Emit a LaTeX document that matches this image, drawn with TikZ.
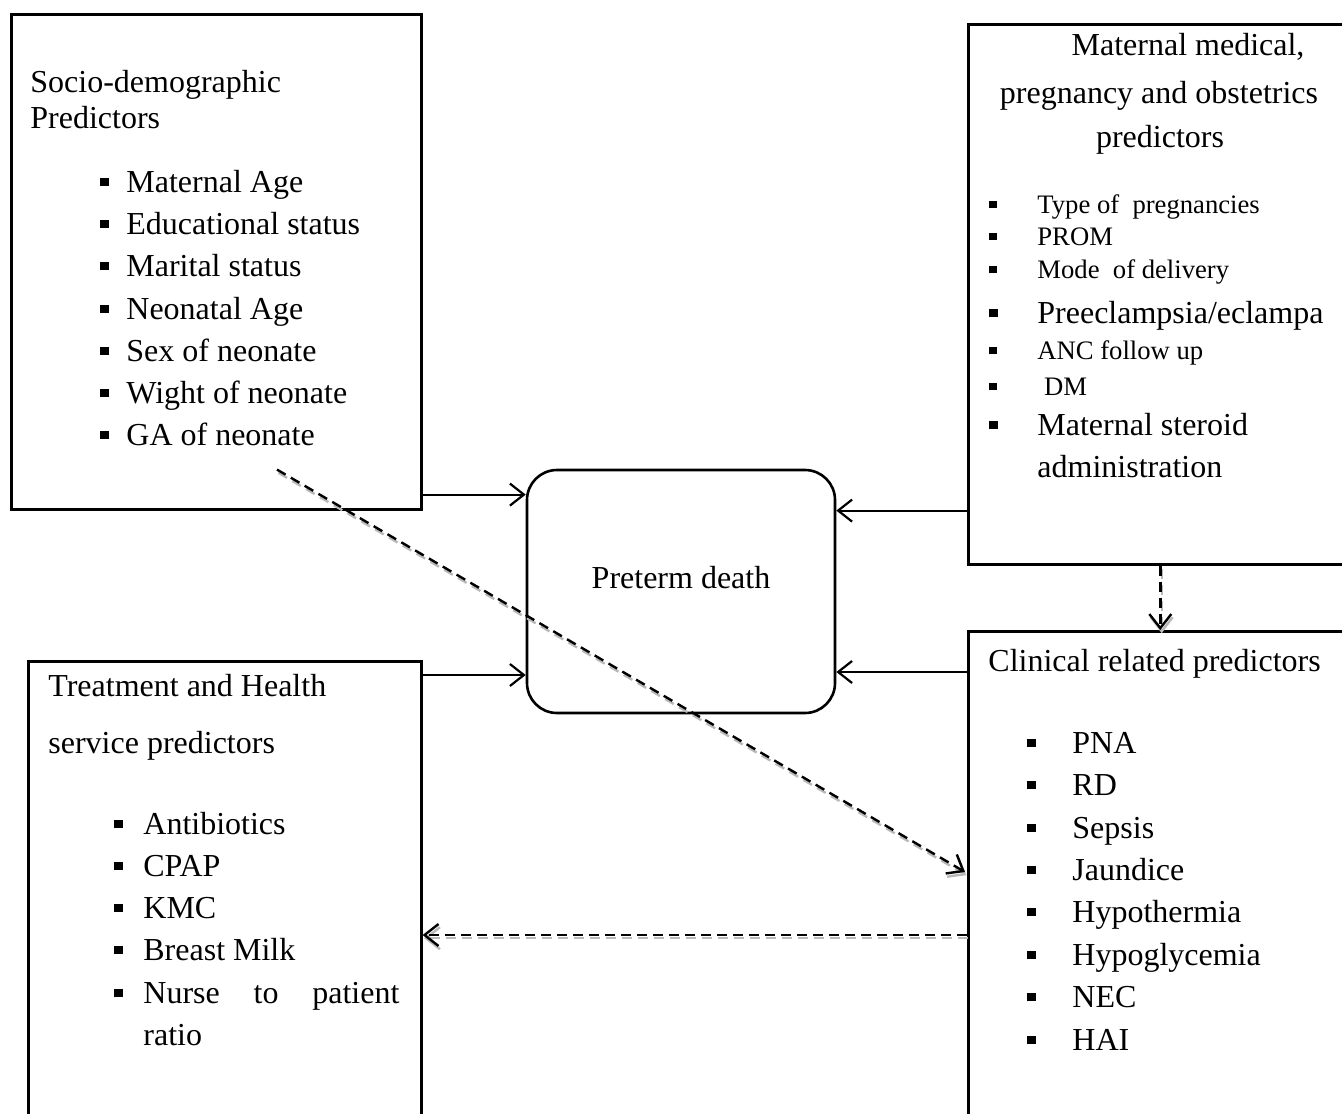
\documentclass[tikz,border=0pt]{standalone}
\usepackage{fontspec}
\setmainfont{Liberation Serif}
\usetikzlibrary{arrows.meta}
\newcommand{\sq}{\rule[0.18em]{0.27em}{0.27em}}
\newcommand{\bl}[1]{\makebox[#1][l]{\sq}}
\begin{document}
\begin{tikzpicture}[x=0.5pt,y=-0.5pt,
  box/.style={draw,line width=1.3pt,rectangle,anchor=north west,inner sep=0pt},
  txt/.style={anchor=base west,inner sep=0pt,font=\fontsize{16}{21}\selectfont},
  sml/.style={anchor=base west,inner sep=0pt,font=\fontsize{13.33}{16}\selectfont},
  arr/.style={line width=1.1pt,-{Straight Barb[length=7pt,width=11pt]}},
  darr/.style={arr,line width=1.2pt,dash pattern=on 5pt off 3pt},
  dshade/.style={darr,gray!55,transform canvas={shift={(0.7pt,-1.6pt)}}}]
\useasboundingbox (0,0) rectangle (1342,1113);
\clip (0,0) rectangle (1342,1113);

% boxes
\node[box,minimum width=205pt,minimum height=247.5pt] (socio) at (10,13) {};
\node[box,minimum width=192pt,minimum height=270pt] (mat) at (967,23) {};
\node[box,minimum width=196.5pt,minimum height=250pt] (treat) at (27,660) {};
\node[box,minimum width=192pt,minimum height=250pt] (clin) at (967,630) {};
\node[draw,line width=1.3pt,rounded corners=15pt,minimum width=154pt,minimum height=121.5pt] (death) at (681,591.5) {};
\node[txt,anchor=base] (deathT) at (681,588) {Preterm death};

% socio-demographic
\node[txt] (socT1) at (30,92) {Socio-demographic};
\node[txt] (socT2) at (30,128) {Predictors};
\node[txt] (soc1) at (100,192) {\bl{13pt}Maternal Age};
\node[txt] (soc2) at (100,234) {\bl{13pt}Educational status};
\node[txt] (soc3) at (100,276) {\bl{13pt}Marital status};
\node[txt] (soc4) at (100,319) {\bl{13pt}Neonatal Age};
\node[txt] (soc5) at (100,361) {\bl{13pt}Sex of neonate};
\node[txt] (soc6) at (100,403) {\bl{13pt}Wight of neonate};
\node[txt] (soc7) at (100,445) {\bl{13pt}GA of neonate};

% maternal
\node[txt,anchor=base] (matT1) at (1188,56) {Maternal medical,};
\node[txt,anchor=base] (matT2) at (1159,104) {pregnancy and obstetrics};
\node[txt,anchor=base] (matT3) at (1160,148) {predictors};
\node[sml] (mat1) at (989,213) {\bl{24pt}Type of\ \ pregnancies};
\node[sml] (mat2) at (989,245) {\bl{24pt}PROM};
\node[sml] (mat3) at (989,278) {\bl{24pt}Mode\ \ of delivery};
\node[txt] (mat4) at (989,323) {\bl{24pt}Preeclampsia/eclampa};
\node[sml] (mat5) at (989,359) {\bl{24pt}ANC follow up};
\node[sml] (mat6) at (989,395) {\bl{24pt}\ DM};
\node[txt] (mat7) at (989,435) {\bl{24pt}Maternal steroid};
\node[txt] (mat8) at (1037,477) {administration};

% treatment
\node[txt] (trtT1) at (48,696) {Treatment and Health};
\node[txt] (trtT2) at (48,753) {service predictors};
\node[txt] (trt1) at (114,834) {\bl{14.5pt}Antibiotics};
\node[txt] (trt2) at (114,876) {\bl{14.5pt}CPAP};
\node[txt] (trt3) at (114,918) {\bl{14.5pt}KMC};
\node[txt] (trt4) at (114,960) {\bl{14.5pt}Breast Milk};
\node[txt] (trt5) at (114,1003) {\bl{14.5pt}\hbox to 128pt{Nurse\hfil to\hfil patient}};
\node[txt] (trt6) at (143,1045) {ratio};

% clinical
\node[txt] (clnT) at (988,671) {Clinical related predictors};
\node[txt] (cln1) at (1027,753) {\bl{22.5pt}PNA};
\node[txt] (cln2) at (1027,795) {\bl{22.5pt}RD};
\node[txt] (cln3) at (1027,838) {\bl{22.5pt}Sepsis};
\node[txt] (cln4) at (1027,880) {\bl{22.5pt}Jaundice};
\node[txt] (cln5) at (1027,922) {\bl{22.5pt}Hypothermia};
\node[txt] (cln6) at (1027,965) {\bl{22.5pt}Hypoglycemia};
\node[txt] (cln7) at (1027,1007) {\bl{22.5pt}NEC};
\node[txt] (cln8) at (1027,1050) {\bl{22.5pt}HAI};

% arrows
\coordinate (s1) at ([yshift=8pt]socio.south east);
\coordinate (t1) at ([yshift=-7.5pt]treat.north east);
\coordinate (m1) at ([yshift=27.5pt]mat.south west);
\coordinate (c1) at ([yshift=-21pt]clin.north west);
\coordinate (s2) at ([xshift=133.5pt,yshift=20.5pt]socio.south west);
\coordinate (c2) at ([xshift=-1pt,yshift=-121pt]clin.north west);
\coordinate (c3) at ([yshift=-152.5pt]clin.north west);
\draw[arr] (s1) -- (s1 -| death.west);
\draw[arr] (t1) -- (t1 -| death.west);
\draw[arr] (m1) -- (m1 -| death.east);
\draw[arr] (c1) -- (c1 -| death.east);
% dashed links, grey shadow first
\draw[dshade] (mat.south) -- (clin.north);
\draw[dshade] (s2) -- (c2);
\draw[dshade] (c3) -- (c3 -| treat.east);
\draw[darr] (mat.south) -- (clin.north);
\draw[darr] (s2) -- (c2);
\draw[darr] (c3) -- (c3 -| treat.east);
\end{tikzpicture}
\end{document}
